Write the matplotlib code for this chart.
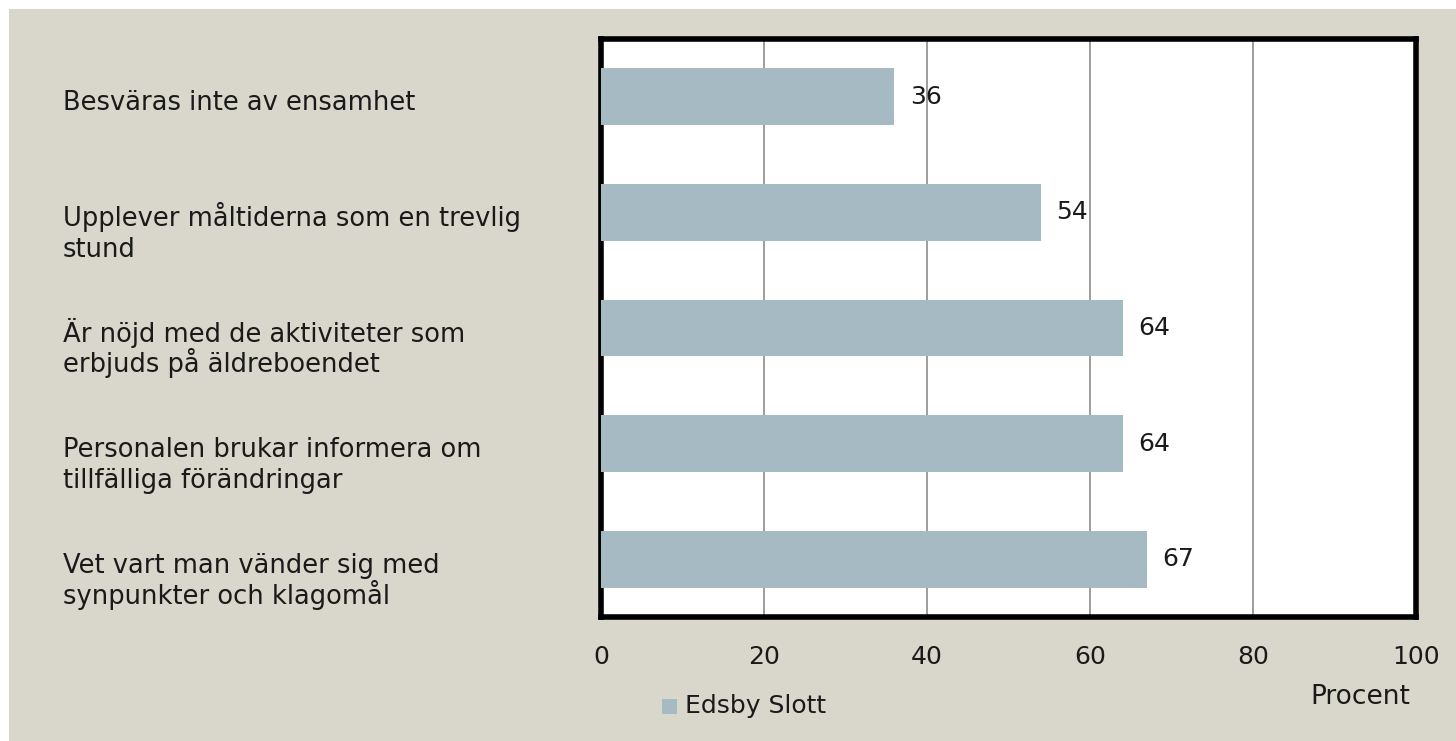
import matplotlib.pyplot as plt
import matplotlib.patches as mpatches

categories = ['Besväras inte av ensamhet',
              'Upplever måltiderna som en trevlig\nstund',
              'Är nöjd med de aktiviteter som\nerbjuds på äldreboendet',
              'Personalen brukar informera om\ntillfälliga förändringar',
              'Vet vart man vänder sig med\nsynpunkter och klagomål']
values = [36, 54, 64, 64, 67]
xticks = [0, 20, 40, 60, 80, 100]
series = 'Edsby Slott'

bg = '#d9d7cb'
barcol = '#a6bac4'
txtcol = '#1a1a1a'
fs = 18.5
plt.rcParams['font.family'] = ['DejaVu Sans']

W, H = 1456, 741
fig = plt.figure(figsize=(W / 100, H / 100), dpi=100)
fig.patch.set_facecolor('white')
fig.add_artist(mpatches.Rectangle((9 / W, 0), 1 - 9 / W, 1 - 9 / H,
                                  transform=fig.transFigure, fc=bg, ec='none', zorder=0))

ax = fig.add_axes([601 / W, 1 - 617 / H, (1416 - 601) / W, (617 - 39) / H])
ax.set_facecolor('white')
y = list(range(len(categories)))
ax.barh(y, values, height=0.49, color=barcol, zorder=3)
ax.set_ylim(len(categories) - 0.5, -0.5)
ax.set_xlim(0, 100)
ax.set_xticks(xticks)
ax.xaxis.grid(True, color='#8c8c8c', linewidth=1.2, zorder=0)
ax.tick_params(axis='x', length=0, pad=20, labelsize=18, colors=txtcol)
ax.set_yticks([])
for s in ax.spines.values():
    s.set_linewidth(4)
    s.set_color('black')

for yi, v in zip(y, values):
    ax.text(v + 1.9, yi, str(v), va='center', ha='left', fontsize=18, color=txtcol, zorder=4)

# labels: first line level with bar centre, extra lines hang below (31 px apart)
for yi, lab in zip(y, categories):
    ypx = ax.transData.transform((0, yi))[1]
    for i, line in enumerate(lab.split('\n')):
        fig.text(63 / W, (ypx - 13.5 - 31 * i) / H, line, ha='left', va='baseline',
                 fontsize=fs, color=txtcol)

fig.add_artist(mpatches.Rectangle((662 / W, 1 - 714 / H), 15 / W, 15 / H,
                                  transform=fig.transFigure, fc=barcol, ec='none'))
fig.text(685 / W, 1 - 706 / H, series, ha='left', va='center', fontsize=18, color=txtcol)
fig.text(1410 / W, 1 - 697 / H, 'Procent', ha='right', va='center', fontsize=19, color=txtcol)

fig.savefig('out.png', dpi=100, facecolor=fig.get_facecolor())
